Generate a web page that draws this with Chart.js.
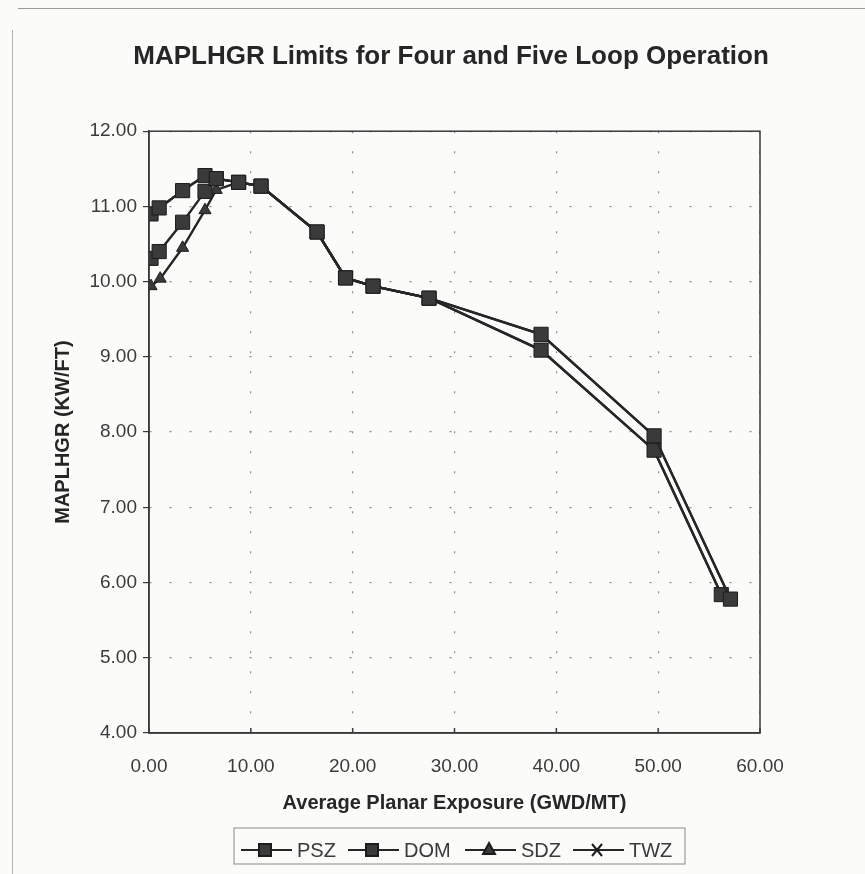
<!DOCTYPE html>
<html>
<head>
<meta charset="utf-8">
<title>MAPLHGR Limits</title>
<script src="https://cdn.jsdelivr.net/npm/chart.js"></script>
<style>
  body { margin: 0; background: #fbfbfa; }
  #wrap { position: relative; width: 865px; height: 874px; }
  .frameTop { position: absolute; left: 18px; top: 8px; width: 847px; height: 0; border-top: 1.5px solid #9a9a9a; }
  .frameLeft { position: absolute; left: 12px; top: 30px; width: 0; height: 844px; border-left: 1px solid #b0b0b0; }
</style>
</head>
<body>
<div id="wrap">
  <div class="frameTop"></div>
  <div class="frameLeft"></div>
  <canvas id="myChart" width="865" height="874"></canvas>
</div>
<script>
// exposure (GWD/MT) and MAPLHGR (KW/FT)
const pszX = [0.2, 1.0, 3.3, 5.5, 6.6, 8.8, 11.0, 16.5, 19.3, 22.0, 27.5, 38.5, 49.6, 57.1];
const pszY = [10.90, 10.98, 11.21, 11.41, 11.37, 11.32, 11.27, 10.66, 10.05, 9.94, 9.78, 9.30, 7.95, 5.78];
const domX = [0.2, 1.0, 3.3, 5.5, 6.6, 8.8, 11.0, 16.5, 19.3, 22.0, 27.5, 38.5, 49.6, 56.2];
const domY = [10.31, 10.40, 10.79, 11.20, 11.37, 11.32, 11.27, 10.66, 10.05, 9.94, 9.78, 9.09, 7.76, 5.84];
const sdzX = [0.2, 1.1, 3.3, 5.5, 6.6, 8.8, 11.0, 16.5, 19.3, 22.0, 27.5, 38.5, 49.6, 56.2];
const sdzY = [9.94, 10.04, 10.45, 10.95, 11.22, 11.32, 11.27, 10.66, 10.05, 9.94, 9.78, 9.09, 7.76, 5.84];
const twzX = [0.2, 1.0, 3.3, 5.5, 6.6, 8.8, 11.0, 16.5, 19.3, 22.0, 27.5, 38.5, 49.6, 57.1];
const twzY = [10.90, 10.98, 11.21, 11.41, 11.37, 11.32, 11.27, 10.66, 10.05, 9.94, 9.78, 9.30, 7.95, 5.78];

const seriesNames = ["PSZ", "DOM", "SDZ", "TWZ"];
const xTicks = [0, 10, 20, 30, 40, 50, 60];
const yTicks = [4, 5, 6, 7, 8, 9, 10, 11, 12];

const ink = "#262626";
const fontFam = "'Liberation Sans', Arial, sans-serif";

function pts(xs, ys) {
    return xs.map(function (x, i) { return { x: x, y: ys[i] }; });
}

function series(label, xs, ys, style, radius) {
    return {
        label: label,
        data: pts(xs, ys),
        borderColor: ink,
        borderWidth: 2.4,
        backgroundColor: "#3a3a3a",
        pointStyle: style,
        pointRadius: radius,
        pointBorderColor: "#1c1c1c",
        pointBorderWidth: 1,
        fill: false,
        tension: 0
    };
}

// plot box (top/right edges) and small inner ticks on the x axis
const boxPlugin = {
    id: "box",
    beforeDatasetsDraw: function (chart) {
        const a = chart.chartArea, ctx = chart.ctx;
        ctx.save();
        ctx.strokeStyle = "#3a3a3a";
        ctx.lineWidth = 1.5;
        ctx.strokeRect(a.left, a.top, a.right - a.left, a.bottom - a.top);
        const xs = chart.scales.x;
        xTicks.forEach(function (v) {
            const px = xs.getPixelForValue(v);
            ctx.beginPath();
            ctx.moveTo(px, a.bottom);
            ctx.lineTo(px, a.bottom - 5);
            ctx.stroke();
        });
        ctx.restore();
    }
};

// boxed legend with line-marker-line samples
const legendPlugin = {
    id: "boxLegend",
    afterDraw: function (chart) {
        const ctx = chart.ctx;
        const left = 234, top = 828, right = 685, bottom = 864, cy = 850;
        ctx.save();
        ctx.strokeStyle = "#8a8a8a";
        ctx.lineWidth = 1;
        ctx.strokeRect(left, top, right - left, bottom - top);
        ctx.font = "20px " + fontFam;
        ctx.textBaseline = "middle";
        const startX = [241, 348, 465, 573];
        chart.data.datasets.forEach(function (ds, i) {
            const x0 = startX[i], x1 = x0 + 51, mx = x0 + 24;
            ctx.strokeStyle = ink;
            ctx.lineWidth = 2;
            ctx.beginPath();
            ctx.moveTo(x0, cy);
            ctx.lineTo(x1, cy);
            ctx.stroke();
            ctx.fillStyle = "#3a3a3a";
            ctx.strokeStyle = "#1c1c1c";
            if (ds.pointStyle === "rect") {
                ctx.fillRect(mx - 6, cy - 6, 12, 12);
                ctx.strokeRect(mx - 6, cy - 6, 12, 12);
            } else if (ds.pointStyle === "triangle") {
                ctx.beginPath();
                ctx.moveTo(mx, cy - 7);
                ctx.lineTo(mx + 6, cy + 4);
                ctx.lineTo(mx - 6, cy + 4);
                ctx.closePath();
                ctx.fill();
                ctx.stroke();
            } else {
                ctx.beginPath();
                ctx.moveTo(mx - 5, cy - 6);
                ctx.lineTo(mx + 5, cy + 6);
                ctx.moveTo(mx + 5, cy - 6);
                ctx.lineTo(mx - 5, cy + 6);
                ctx.stroke();
            }
            ctx.fillStyle = "#3a3a3a";
            ctx.fillText(ds.label, x1 + 5, cy + 1);
        });
        ctx.restore();
    }
};

new Chart("myChart", {
    type: "line",
    data: {
        datasets: [
            series(seriesNames[0], pszX, pszY, "rect", 10),
            series(seriesNames[1], domX, domY, "rect", 10),
            series(seriesNames[2], sdzX, sdzY, "triangle", 7),
            series(seriesNames[3], twzX, twzY, "crossRot", 6)
        ]
    },
    options: {
        responsive: false,
        animation: false,
        layout: { padding: { left: 37, right: 0, top: 0, bottom: 0 } },
        plugins: {
            legend: { display: false },
            tooltip: { enabled: false },
            title: {
                display: true,
                text: "MAPLHGR Limits for Four and Five Loop Operation",
                color: "#262626",
                font: { family: fontFam, size: 26, weight: "bold" },
                padding: { top: 41, bottom: 59 }
            }
        },
        scales: {
            x: {
                type: "linear",
                min: 0,
                max: 60,
                afterBuildTicks: function (s) { s.ticks = xTicks.map(function (v) { return { value: v }; }); },
                afterFit: function (s) { s.height = 141; },
                ticks: {
                    color: "#3a3a3a",
                    font: { family: fontFam, size: 19 },
                    padding: 22,
                    maxRotation: 0,
                    callback: function (v) { return v.toFixed(2); }
                },
                grid: { color: "#8c8c8c", lineWidth: 1.2, drawTicks: false },
                border: { display: true, color: "#3a3a3a", width: 1.5, dash: [2, 18] },
                title: {
                    display: true,
                    text: "Average Planar Exposure (GWD/MT)",
                    color: "#262626",
                    font: { family: fontFam, size: 20, weight: "bold" },
                    padding: { top: 0, bottom: 59 }
                }
            },
            y: {
                min: 4,
                max: 12,
                afterBuildTicks: function (s) { s.ticks = yTicks.map(function (v) { return { value: v }; }); },
                afterFit: function (s) { s.width = 112; },
                ticks: {
                    color: "#3a3a3a",
                    font: { family: fontFam, size: 19 },
                    padding: 6,
                    callback: function (v) { return v.toFixed(2); }
                },
                grid: { color: "#8c8c8c", lineWidth: 1.2, drawTicks: true, tickLength: 6, tickColor: "#3a3a3a", tickBorderDash: [] },
                border: { display: true, color: "#3a3a3a", width: 1.5, dash: [2, 18] },
                title: {
                    display: true,
                    text: "MAPLHGR (KW/FT)",
                    color: "#262626",
                    font: { family: fontFam, size: 20, weight: "bold" },
                    padding: { top: 14, bottom: 0 }
                }
            },
            // empty right-hand margin so the title centres like the reference
            spacer: {
                type: "linear",
                position: "right",
                min: 0,
                max: 1,
                afterFit: function (s) { s.width = 105; },
                ticks: { display: false },
                grid: { display: false, drawTicks: false },
                border: { display: false }
            }
        }
    },
    plugins: [boxPlugin, legendPlugin]
});
</script>
</body>
</html>
